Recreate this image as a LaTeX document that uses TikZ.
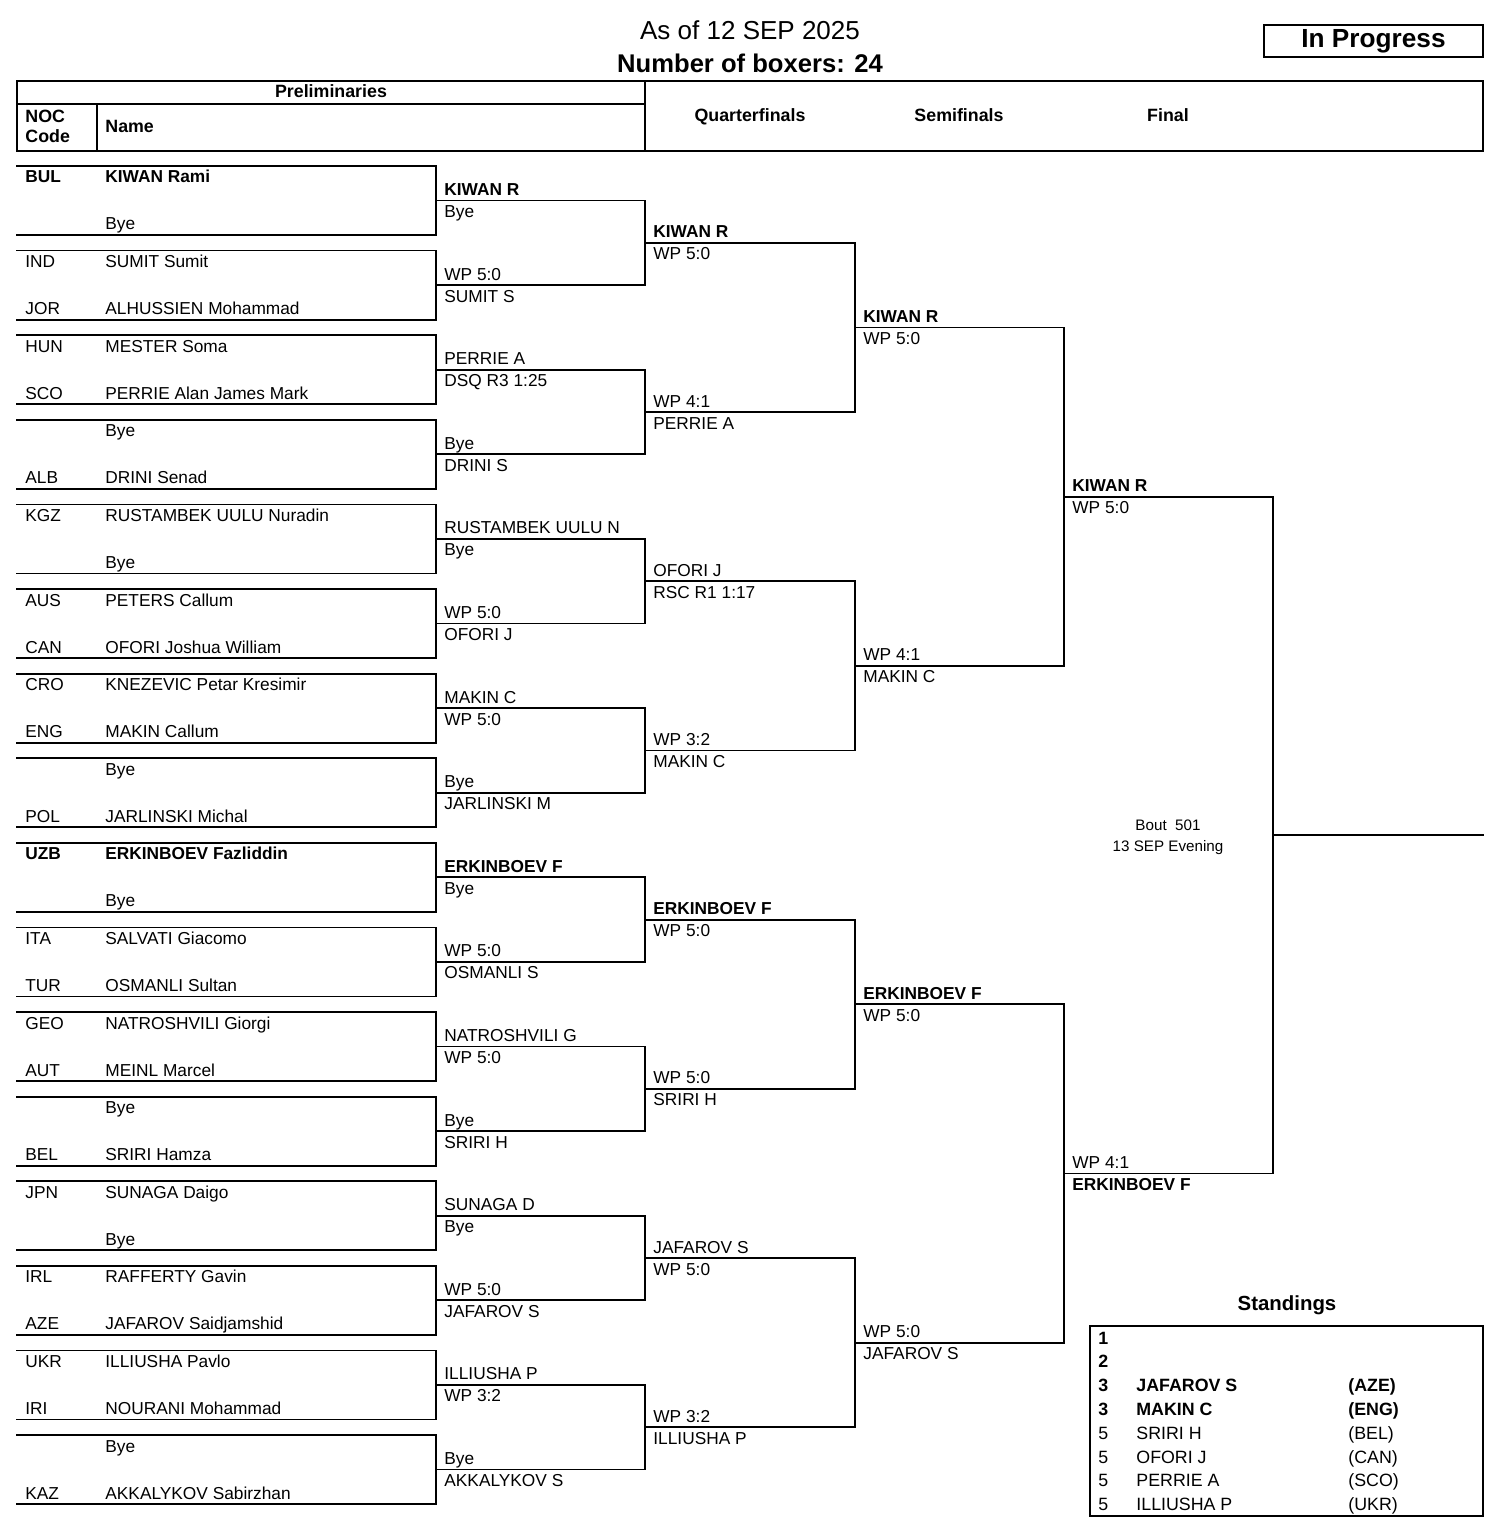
\documentclass[tikz,border=0pt]{standalone}
\usepackage{fontspec}
\setmainfont{Liberation Sans}
\begin{document}
\begin{tikzpicture}[x=0.5pt,y=-0.5pt,
  ln/.style={line width=0.9pt,line cap=rect},
  txt/.style={inner sep=0pt,anchor=base west,font=\fontsize{8.65}{10}\selectfont},
  ctxt/.style={inner sep=0pt,anchor=base,font=\fontsize{8.9}{10}\selectfont\bfseries},
  btxt/.style={inner sep=0pt,anchor=base,font=\fontsize{7.6}{9}\selectfont},
  stxt/.style={inner sep=0pt,anchor=base west,font=\fontsize{8.9}{10}\selectfont}]
\useasboundingbox (0,0) rectangle (1506,1530);
% title
\node[inner sep=0pt,anchor=base,font=\fontsize{13}{15}\selectfont] (t1) at (750,40) {As of 12 SEP 2025};
\node[inner sep=0pt,anchor=base,font=\fontsize{12.8}{14}\selectfont\bfseries] (t2) at (750,73) {Number of boxers: 24};
\node[draw,line width=0.9pt,minimum width=109.5pt,minimum height=16pt,inner sep=0pt,font=\fontsize{13.1}{15}\selectfont\bfseries] (prog) at (1373.5,41) {In Progress};
% header table
\coordinate (h1) at (17,81); \coordinate (h2) at (1483,151);
\draw[ln] (h1) rectangle (h2);
\coordinate (h3) at (17,104); \coordinate (h4) at (645,104);
\coordinate (h5) at (97,104); \coordinate (h6) at (97,151);
\coordinate (h7) at (645,81); \coordinate (h8) at (645,151);
\draw[ln] (h3) -- (h4) (h5) -- (h6) (h7) -- (h8);
\node[ctxt] (hp) at (331,98) {Preliminaries};
\node[ctxt,anchor=base west] (hn1) at (25,123) {NOC};
\node[ctxt,anchor=base west] (hn2) at (25,143) {Code};
\node[ctxt,anchor=base west] (hnm) at (105,133) {Name};
\node[ctxt] (hq) at (750,122) {Quarterfinals};
\node[ctxt] (hs) at (959,122) {Semifinals};
\node[ctxt] (hf) at (1168,122) {Final};
% preliminary boxes
\foreach \k/\ca/\na/\cb/\nb in {
 1/{\textbf{BUL}}/{\textbf{KIWAN Rami}}/{}/Bye,
 2/IND/SUMIT Sumit/JOR/ALHUSSIEN Mohammad,
 3/HUN/MESTER Soma/SCO/PERRIE Alan James Mark,
 4/{}/Bye/ALB/DRINI Senad,
 5/KGZ/RUSTAMBEK UULU Nuradin/{}/Bye,
 6/AUS/PETERS Callum/CAN/OFORI Joshua William,
 7/CRO/KNEZEVIC Petar Kresimir/ENG/MAKIN Callum,
 8/{}/Bye/POL/JARLINSKI Michal,
 9/{\textbf{UZB}}/{\textbf{ERKINBOEV Fazliddin}}/{}/Bye,
 10/ITA/SALVATI Giacomo/TUR/OSMANLI Sultan,
 11/GEO/NATROSHVILI Giorgi/AUT/MEINL Marcel,
 12/{}/Bye/BEL/SRIRI Hamza,
 13/JPN/SUNAGA Daigo/{}/Bye,
 14/IRL/RAFFERTY Gavin/AZE/JAFAROV Saidjamshid,
 15/UKR/ILLIUSHA Pavlo/IRI/NOURANI Mohammad,
 16/{}/Bye/KAZ/AKKALYKOV Sabirzhan}{
  \pgfmathsetmacro\t{166+84.6*(\k-1)}
  \pgfmathsetmacro\b{\t+69}
  \coordinate (bt\k) at (17,\t);
  \coordinate (btr\k) at (436,\t);
  \coordinate (bbr\k) at (436,\b);
  \coordinate (bb\k) at (17,\b);
  \draw[ln] (bt\k) -- (btr\k) -- (bbr\k) -- (bb\k);
  \node[txt] (ca\k) at (25,\t+17) {\ca};
  \node[txt] (na\k) at (105,\t+17) {\na};
  \node[txt] (cb\k) at (25,\b-5) {\cb};
  \node[txt] (nb\k) at (105,\b-5) {\nb};
}
% round 1 results
\foreach \k/\ab/\be in {
 1/{\textbf{KIWAN R}}/Bye,
 2/WP 5:0/SUMIT S,
 3/PERRIE A/DSQ R3 1:25,
 4/Bye/DRINI S,
 5/RUSTAMBEK UULU N/Bye,
 6/WP 5:0/OFORI J,
 7/MAKIN C/WP 5:0,
 8/Bye/JARLINSKI M,
 9/{\textbf{ERKINBOEV F}}/Bye,
 10/WP 5:0/OSMANLI S,
 11/NATROSHVILI G/WP 5:0,
 12/Bye/SRIRI H,
 13/SUNAGA D/Bye,
 14/WP 5:0/JAFAROV S,
 15/ILLIUSHA P/WP 3:2,
 16/Bye/AKKALYKOV S}{
  \pgfmathsetmacro\m{200.5+84.6*(\k-1)}
  \coordinate (rs\k) at (436,\m);
  \coordinate (re\k) at (645,\m);
  \draw[ln] (rs\k) -- (re\k);
  \node[txt] (ra\k) at (444,\m-5) {\ab};
  \node[txt] (rb\k) at (444,\m+17) {\be};
}
% quarterfinals
\foreach \k/\ab/\be in {
 1/{\textbf{KIWAN R}}/WP 5:0,
 2/WP 4:1/PERRIE A,
 3/OFORI J/RSC R1 1:17,
 4/WP 3:2/MAKIN C,
 5/{\textbf{ERKINBOEV F}}/WP 5:0,
 6/WP 5:0/SRIRI H,
 7/JAFAROV S/WP 5:0,
 8/WP 3:2/ILLIUSHA P}{
  \pgfmathtruncatemacro\ia{2*\k-1}
  \pgfmathtruncatemacro\ib{2*\k}
  \draw[ln] (re\ia) -- (re\ib);
  \pgfmathsetmacro\m{200.5+84.6*(2*\k-1.5)}
  \coordinate (qs\k) at (645,\m);
  \coordinate (qe\k) at (855,\m);
  \draw[ln] (qs\k) -- (qe\k);
  \node[txt] (qa\k) at (653,\m-5) {\ab};
  \node[txt] (qb\k) at (653,\m+17) {\be};
}
% semifinals
\foreach \k/\ab/\be in {
 1/{\textbf{KIWAN R}}/WP 5:0,
 2/WP 4:1/MAKIN C,
 3/{\textbf{ERKINBOEV F}}/WP 5:0,
 4/WP 5:0/JAFAROV S}{
  \pgfmathtruncatemacro\ia{2*\k-1}
  \pgfmathtruncatemacro\ib{2*\k}
  \draw[ln] (qe\ia) -- (qe\ib);
  \pgfmathsetmacro\m{200.5+84.6*(4*\k-2.5)}
  \coordinate (ss\k) at (855,\m);
  \coordinate (se\k) at (1064,\m);
  \draw[ln] (ss\k) -- (se\k);
  \node[txt] (sa\k) at (863,\m-5) {\ab};
  \node[txt] (sb\k) at (863,\m+17) {\be};
}
% final
\foreach \k/\ab/\be in {
 1/{\textbf{KIWAN R}}/WP 5:0,
 2/WP 4:1/{\textbf{ERKINBOEV F}}}{
  \pgfmathtruncatemacro\ia{2*\k-1}
  \pgfmathtruncatemacro\ib{2*\k}
  \draw[ln] (se\ia) -- (se\ib);
  \pgfmathsetmacro\m{200.5+84.6*(8*\k-4.5)}
  \coordinate (fs\k) at (1064,\m);
  \coordinate (fe\k) at (1273,\m);
  \draw[ln] (fs\k) -- (fe\k);
  \node[txt] (fa\k) at (1072,\m-5) {\ab};
  \node[txt] (fb\k) at (1072,\m+17) {\be};
}
\draw[ln] (fe1) -- (fe2);
\coordinate (ws) at (1273,835);
\coordinate (we) at (1483,835);
\draw[ln] (ws) -- (we);
\node[btxt] (bout1) at (1168,830) {Bout\ \ 501};
\node[btxt] (bout2) at (1168,851) {13 SEP Evening};
% standings
\node[inner sep=0pt,anchor=base,font=\fontsize{10.2}{12}\selectfont\bfseries] (sth) at (1287,1310) {Standings};
\coordinate (sb1) at (1090,1326); \coordinate (sb2) at (1483,1516);
\draw[ln] (sb1) rectangle (sb2);
\foreach \i/\p/\n/\c in {
 1/{\textbf{1}}/{}/{},
 2/{\textbf{2}}/{}/{},
 3/{\textbf{3}}/{\textbf{JAFAROV S}}/{\textbf{(AZE)}},
 4/{\textbf{3}}/{\textbf{MAKIN C}}/{\textbf{(ENG)}},
 5/5/{SRIRI H}/{(BEL)},
 6/5/{OFORI J}/{(CAN)},
 7/5/{PERRIE A}/{(SCO)},
 8/5/{ILLIUSHA P}/{(UKR)}}{
  \pgfmathsetmacro\y{1344+23.8*(\i-1)}
  \node[stxt] (sp\i) at (1098,\y) {\p};
  \node[stxt] (sn\i) at (1136,\y) {\n};
  \node[stxt] (sc\i) at (1348,\y) {\c};
}
\end{tikzpicture}
\end{document}
